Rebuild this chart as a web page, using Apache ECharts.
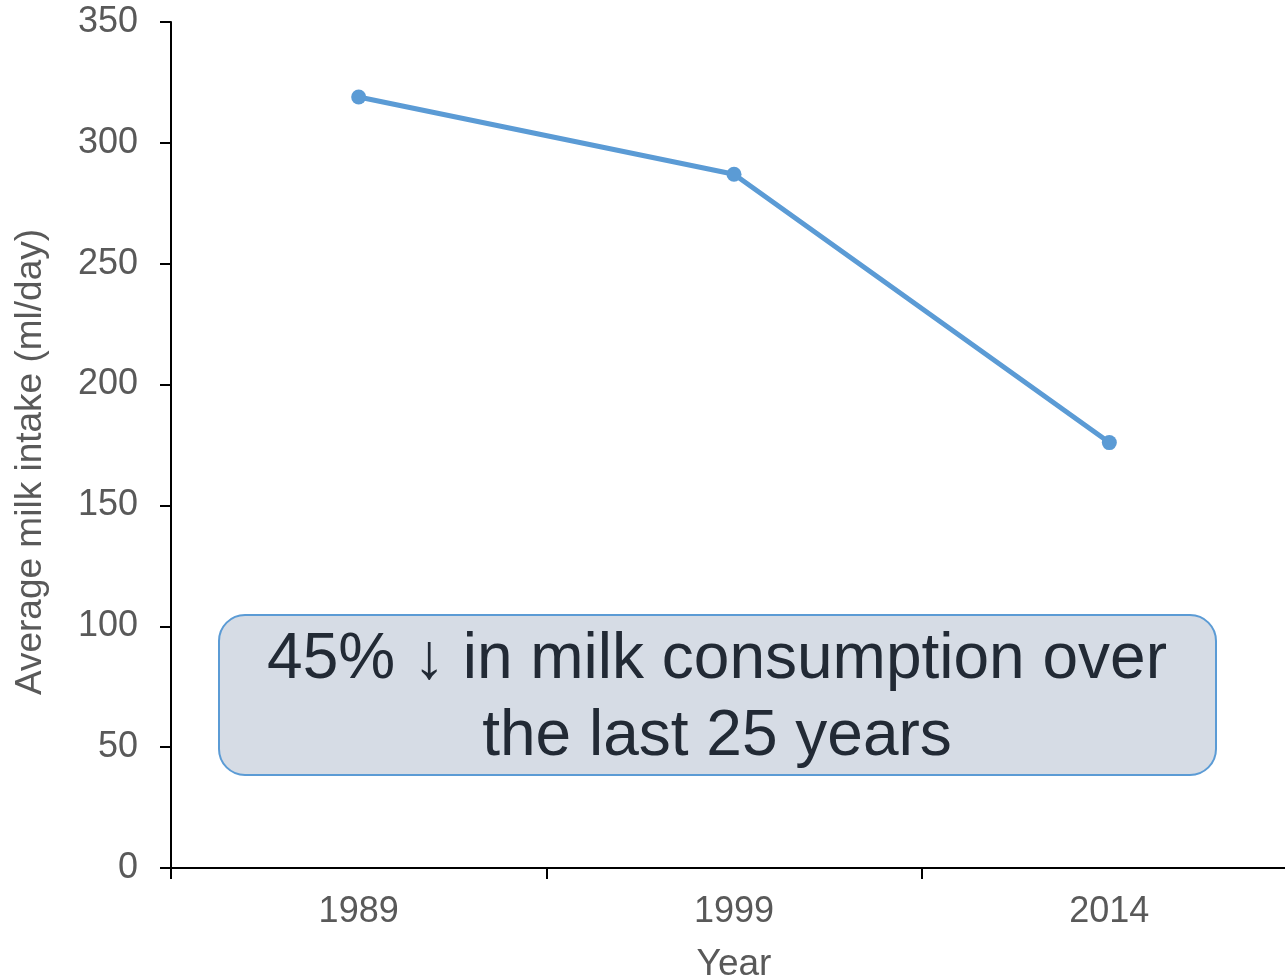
<!DOCTYPE html>
<html>
<head>
<meta charset="utf-8">
<script src="https://cdn.jsdelivr.net/npm/echarts@6/dist/echarts.min.js"></script>
<style>
  html, body { margin: 0; padding: 0; background: #fff; }
  #chart { width: 1285px; height: 980px; }
</style>
</head>
<body>
<div id="chart"></div>
<script>
var years = ['1989', '1999', '2014'];
var milkIntake = [319, 287, 176];
var noteLines = ['45% \u2193 in milk consumption over', 'the last 25 years'];
var yTitle = 'Average milk intake (ml/day)';

var font = '"Liberation Sans", Arial, sans-serif';
var chart = echarts.init(document.getElementById('chart'));

chart.setOption({
    animation: false,
    grid: { left: 171, top: 22, bottom: 112, right: -12, containLabel: false, outerBoundsMode: 'none' },
    xAxis: {
        type: 'category',
        data: years,
        boundaryGap: true,
        name: 'Year',
        nameLocation: 'middle',
        nameGap: 78,
        nameTextStyle: { fontFamily: font, fontSize: 37, color: '#595959' },
        axisLine: { lineStyle: { color: '#000', width: 2 } },
        axisTick: { show: true, interval: 0, length: 11, lineStyle: { color: '#000', width: 2 } },
        axisLabel: { fontFamily: font, fontSize: 36, color: '#595959', margin: 26 }
    },
    yAxis: {
        type: 'value',
        min: 0,
        max: 350,
        interval: 50,
        axisLine: { show: true, lineStyle: { color: '#000', width: 2 } },
        axisTick: { show: true, length: 11, lineStyle: { color: '#000', width: 2 } },
        axisLabel: { fontFamily: font, fontSize: 36, color: '#595959', margin: 33 },
        splitLine: { show: false }
    },
    series: [{
        type: 'line',
        data: milkIntake,
        symbol: 'circle',
        symbolSize: 15,
        lineStyle: { color: '#5b9bd5', width: 5 },
        itemStyle: { color: '#5b9bd5' }
    }],
    graphic: [{
        // y axis title, placed by hand so it sits where the original does
        type: 'text',
        x: 31,
        y: 462,
        rotation: Math.PI / 2,
        style: {
            text: yTitle,
            font: '37px ' + font,
            fill: '#595959',
            align: 'center',
            verticalAlign: 'middle'
        }
    }, {
        type: 'group',
        left: 218,
        top: 614,
        children: [{
            type: 'rect',
            shape: { x: 0, y: 0, width: 997, height: 160, r: 26 },
            style: { fill: '#d6dce5', stroke: '#5b9bd5', lineWidth: 2 }
        }, {
            type: 'text',
            x: 498,
            y: 84,
            style: {
                text: noteLines.join('\n'),
                font: '64px ' + font,
                fill: '#222a35',
                align: 'center',
                verticalAlign: 'middle',
                lineHeight: 77
            }
        }]
    }]
});
</script>
</body>
</html>
